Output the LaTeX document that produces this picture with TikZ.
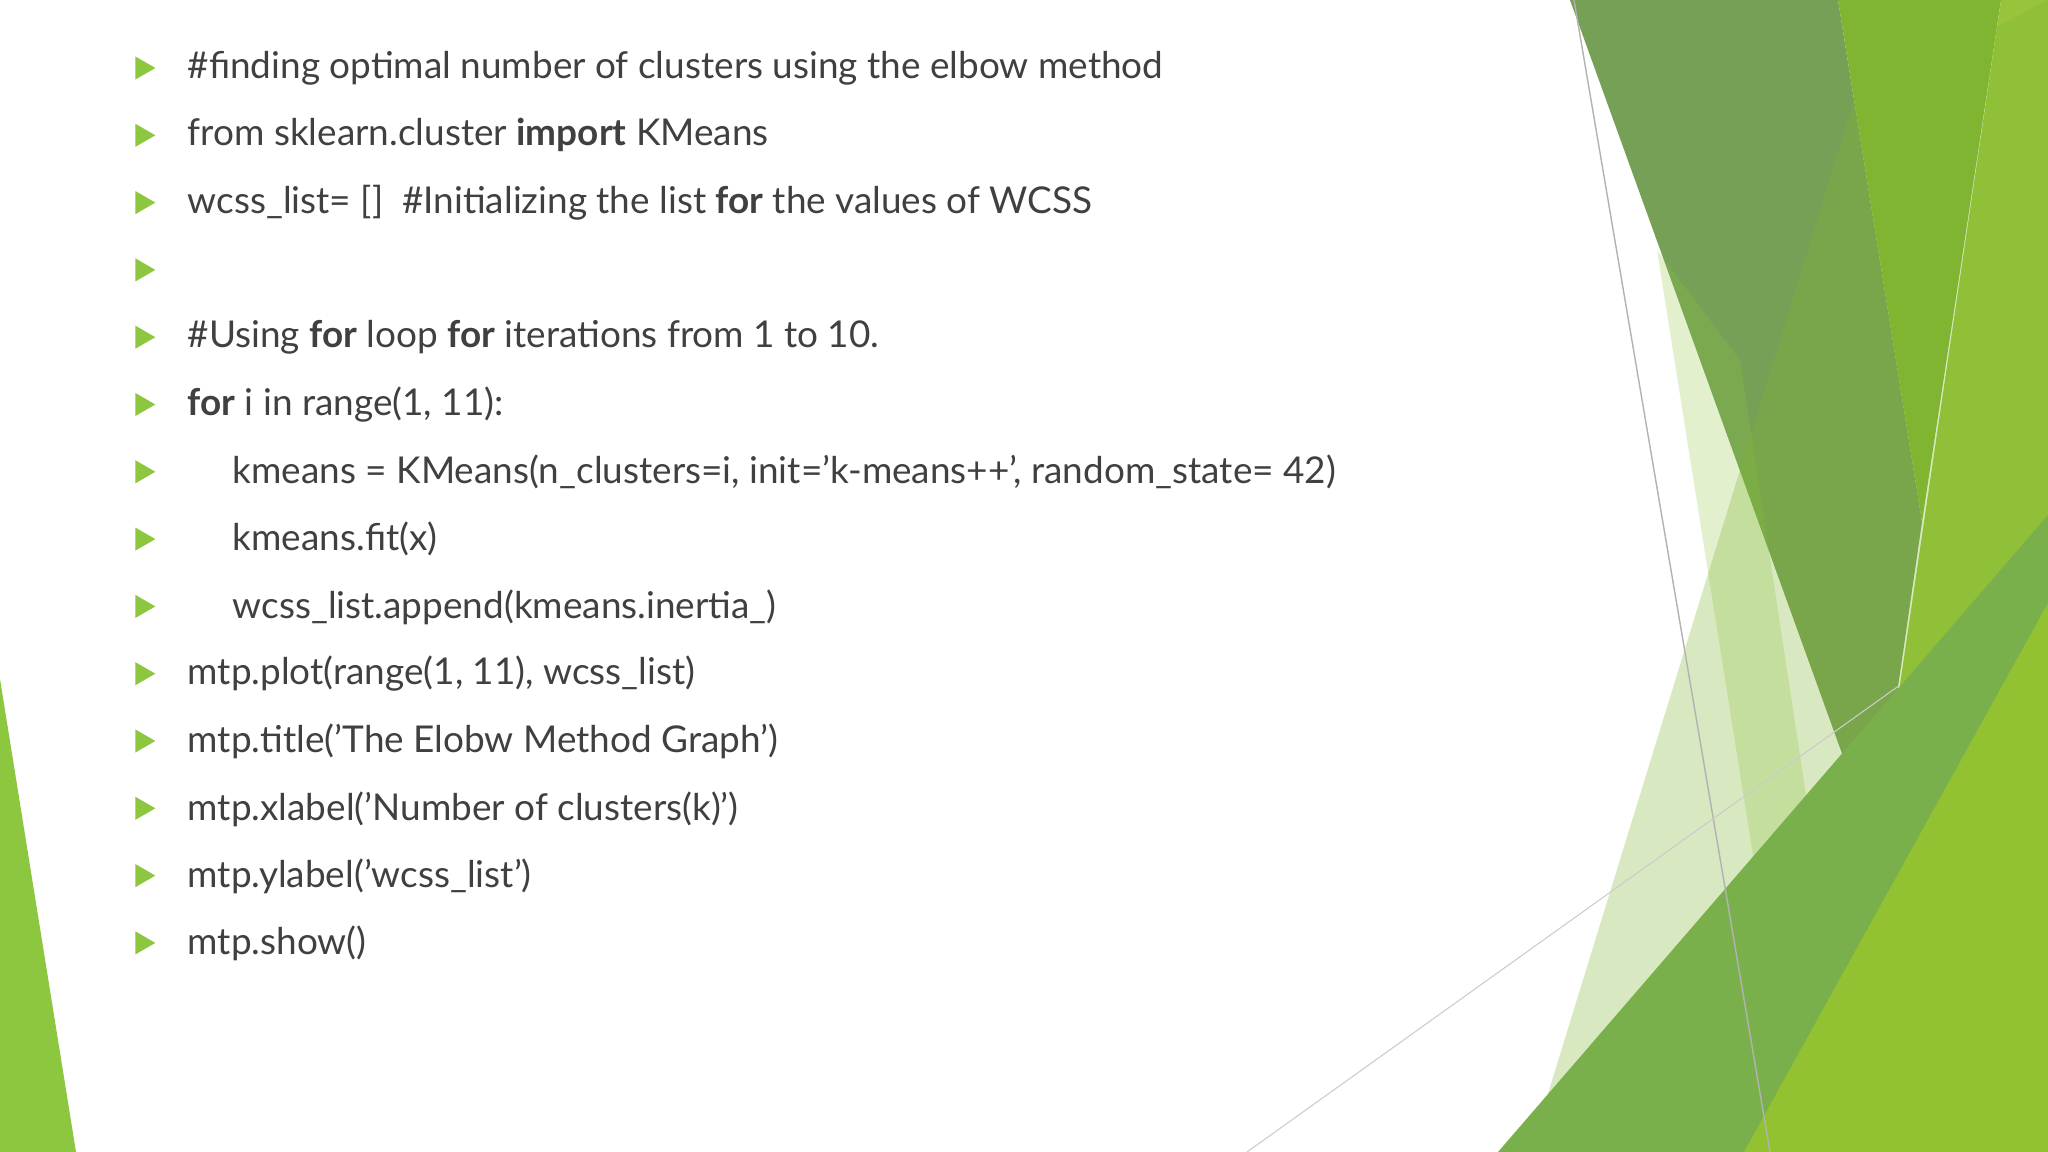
\documentclass[tikz,border=0pt]{standalone}
\usepackage{fontspec}
\setmainfont{Lato}
\usetikzlibrary{shapes.geometric}
\definecolor{leafgreen}{HTML}{8DC63F}
\definecolor{olive}{HTML}{76A055}
\definecolor{brightgreen}{HTML}{80B531}
\definecolor{lightgreen}{HTML}{98C43C}
\definecolor{grassgreen}{HTML}{7AB04C}
\definecolor{limegreen}{HTML}{92C131}
\definecolor{textgray}{HTML}{404040}
\begin{document}
\begin{tikzpicture}[x=0.01cm,y=-0.01cm]
            \tikzset{bullet/.style={isosceles triangle, fill=leafgreen, draw=none, inner sep=0pt, minimum height=0.2cm, minimum width=0.19cm, isosceles triangle apex angle=60},
                     code/.style={anchor=west, inner sep=0pt, text=textgray, font=\fontsize{10.5}{12}\selectfont}};
            \useasboundingbox[fill=white] (0,0) rectangle (2048,1152);
            
            % background shapes
            \fill[leafgreen] (0,679) -- (76,1152) -- (0,1152) -- cycle;
            \fill[olive] (1570,0) -- (1838,0) -- (1922,522) -- (1875,845) -- cycle;
            \fill[brightgreen] (1838,0) -- (2001,0) -- (1922,522) -- cycle;
            \fill[lightgreen] (2001,0) -- (2048,0) -- (2048,1152) -- (1831,1152) -- cycle;
            \fill[leafgreen, opacity=0.25] (1657,250) -- (1800,1152) -- (1860,1152) -- (1740,360) -- cycle;
            \fill[brightgreen, opacity=0.3] (1530,1152) -- (1853,103) -- (2048,0) -- (2048,1152) -- cycle;
            \fill[grassgreen] (1498,1152) -- (2048,515) -- (2048,1152) -- cycle;
            \fill[limegreen] (1744,1152) -- (2048,603) -- (2048,1152) -- cycle;
            \draw[gray!60, line width=0.4pt] (1574,0) -- (1770,1152);
            \draw[gray!40, line width=0.3pt] (1247,1152) -- (1900,685);
            
            % bullets
            \foreach \i in {1,...,14}
                \node[bullet] (b\i) at (142,{68+67.3*(\i-1)}) {};
            
            \node[code] (t1) at (187,68) {\#finding optimal number of clusters using the elbow method};
            \node[code] (t2) at (187,135) {from sklearn.cluster \textbf{import} KMeans};
            \node[code] (t3) at (187,203) {wcss\_list= []\ \ \#Initializing the list \textbf{for} the values of WCSS};
            \node[code] (t5) at (187,337) {\#Using \textbf{for} loop \textbf{for} iterations from 1 to 10.};
            \node[code] (t6) at (187,405) {\textbf{for} i in range(1, 11):};
            \node[code] (t7) at (232,472) {kmeans = KMeans(n\_clusters=i, init='k-means++', random\_state= 42)};
            \node[code] (t8) at (232,539) {kmeans.fit(x)};
            \node[code] (t9) at (232,607) {wcss\_list.append(kmeans.inertia\_)};
            \node[code] (t10) at (187,674) {mtp.plot(range(1, 11), wcss\_list)};
            \node[code] (t11) at (187,741) {mtp.title('The Elobw Method Graph')};
            \node[code] (t12) at (187,809) {mtp.xlabel('Number of clusters(k)')};
            \node[code] (t13) at (187,876) {mtp.ylabel('wcss\_list')};
            \node[code] (t14) at (187,943) {mtp.show()};
\end{tikzpicture}
\end{document}
